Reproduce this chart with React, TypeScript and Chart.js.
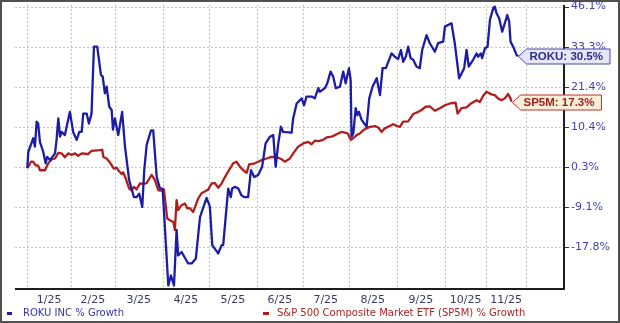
import React, { useEffect, useRef } from "react";
import { Chart, registerables } from "chart.js";

Chart.register(...registerables);

// ---- Data ----
// x unit: trading-session index since the start of 2025
const monthStarts = [0, 20, 40, 62, 83, 105, 126, 147, 169, 191, 210, 228];
const monthLabels = ["1/25", "2/25", "3/25", "4/25", "5/25", "6/25", "7/25", "8/25", "9/25", "10/25", "11/25"];

// right axis tick labels (% growth), bottom to top
const yTickValues = [-17.8, -9.1, 0.3, 10.4, 21.4, 33.3, 46.1];
const yAxisFloor = -25.8;
const yAxisTopPos = 6.04;

const rokuDays = [
  0, 0.5, 2.7, 3.5, 4.3, 5.0, 5.8, 7.3, 8.4, 9.1,
  10.4, 12.7, 13.4, 14.2, 15.0, 15.7, 17.2, 19.5, 21.0, 22.6,
  23.8, 24.9, 25.6, 27.2, 28.2, 29.4, 30.5, 32.0, 33.7, 34.5,
  35.5, 36.3, 37.5, 38.6, 39.2, 40.1, 41.6, 43.4, 44.7, 46.6,
  48.8, 50.0, 51.2, 52.6, 53.5, 54.6, 56.6, 57.6, 59.2, 60.7,
  61.9, 64.5, 65.7, 67.1, 68.3, 69.0, 70.6, 73.6, 75.2, 77.1,
  79.0, 82.0, 83.5, 84.6, 87.3, 88.9, 89.6, 91.9, 93.1, 93.7,
  95.0, 96.5, 98.0, 99.2, 101.0, 102.3, 103.8, 105.6, 107.4, 109.0,
  111.0, 112.5, 113.6, 114.8, 116.0, 117.0, 120.9, 121.6, 123.2, 125.5,
  126.6, 127.7, 130.0, 131.5, 133.1, 133.8, 136.1, 137.2, 138.7, 139.9,
  141.1, 143.0, 144.5, 145.6, 147.1, 147.9, 148.3, 149.1, 150.2, 150.9,
  151.7, 152.9, 155.2, 156.4, 157.9, 159.8, 161.3, 162.5, 164.0, 166.6,
  168.1, 169.6, 170.9, 171.9, 173.1, 174.2, 175.3, 176.5, 178.0, 179.5,
  180.6, 182.6, 184.1, 186.4, 187.9, 190.2, 191.0, 194.0, 195.5, 197.5,
  199.8, 200.9, 201.9, 203.9, 205.5, 206.2, 207.4, 208.0, 209.3, 210.5,
  211.6, 213.1, 213.8, 214.6, 215.8, 217.2, 218.4, 219.5, 220.4, 221.0,
  222.2, 223.8, 224.5,
];
const rokuGrowth = [
  0, 4.1, 7.5, 5.4, 11.8, 11.3, 6.6, 4.1, 1.2, 2.8,
  2.0, 3.7, 7.1, 12.7, 7.9, 9.1, 8.3, 14.5, 9.1, 7.1,
  9.1, 9.1, 14.0, 14.0, 11.3, 14.0, 33.3, 33.3, 24.9, 24.4,
  19.6, 21.4, 15.9, 15.0, 9.7, 12.7, 8.3, 14.5, 5.4, -2.8,
  -6.8, -6.8, -6.0, -9.1, -0.5, 5.8, 9.5, 9.5, -2.1, -4.8,
  -4.8, -25.5, -23.5, -25.5, -14.1, -19.5, -18.8, -21.1, -21.1, -20.1,
  -11.3, -7.0, -9.0, -17.4, -19.1, -17.4, -17.4, -4.8, -6.8, -4.8,
  -4.4, -4.8, -6.4, -6.8, -6.8, -0.5, -2.1, -1.6, 0.3, 6.2,
  7.9, 8.3, 0.3, 6.2, 10.4, 9.1, 8.9, 12.7, 16.8, 18.2,
  16.3, 18.7, 18.7, 18.2, 21.0, 20.0, 21.0, 22.4, 25.9, 24.4,
  21.0, 21.4, 25.9, 22.4, 26.9, 23.4, 7.9, 8.7, 15.5, 13.6,
  14.5, 12.3, 10.4, 18.2, 21.4, 23.9, 19.1, 26.9, 26.9, 31.3,
  30.3, 29.6, 32.3, 28.8, 30.3, 33.3, 29.9, 29.4, 27.4, 26.9,
  32.3, 37.0, 34.4, 31.8, 34.4, 34.9, 39.7, 40.8, 34.4, 23.9,
  26.9, 32.3, 27.4, 29.4, 31.3, 30.3, 31.3, 29.9, 32.8, 33.3,
  41.9, 45.6, 46.1, 44.0, 42.4, 38.1, 40.8, 43.4, 41.3, 34.9,
  33.3, 30.8, 30.5,
];

const sp5mDays = [
  0, 0.5, 1.7, 2.7, 3.8, 5.0, 5.8, 8.1, 9.6, 11.2,
  12.7, 14.2, 15.7, 17.2, 18.8, 20.3, 21.8, 23.3, 24.9, 26.4,
  27.8, 29.4, 33.2, 34.3, 34.8, 36.3, 37.8, 38.6, 39.6, 40.9,
  41.6, 43.2, 43.9, 45.1, 46.6, 47.7, 48.8, 50.0, 51.5, 53.0,
  54.6, 55.8, 56.9, 58.4, 59.9, 61.5, 62.5, 64.0, 65.2, 66.8,
  67.5, 68.3, 69.0, 70.6, 72.1, 73.2, 74.4, 75.9, 78.2, 79.7,
  81.2, 82.8, 84.3, 85.8, 87.3, 88.9, 90.4, 92.7, 94.2, 95.7,
  97.3, 98.8, 100.3, 101.5, 104.1, 105.6, 107.2, 109.5, 111.7, 114.8,
  116.3, 117.8, 120.1, 121.6, 123.9, 126.2, 128.5, 130.0, 131.5, 133.1,
  135.3, 136.9, 139.2, 140.7, 142.2, 143.7, 145.3, 146.6, 147.9, 149.1,
  150.6, 152.1, 153.6, 155.2, 156.7, 159.0, 160.5, 162.0, 163.5, 165.1,
  167.3, 169.6, 170.4, 171.9, 174.2, 176.5, 178.8, 180.3, 182.2, 184.1,
  186.4, 188.7, 191.0, 193.3, 195.9, 196.8, 198.6, 200.9, 202.9, 205.5,
  207.0, 208.5, 210.0, 212.3, 213.8, 215.3, 216.9, 218.4, 219.9, 221.0,
  221.5,
];
const sp5mGrowth = [
  0, 0.3, 1.6, 1.6, 0.7, 0.6, -0.5, -0.5, 1.2, 2.2,
  2.4, 3.8, 3.7, 2.7, 3.7, 3.3, 3.7, 3.1, 3.7, 3.6,
  3.5, 4.3, 4.5, 4.6, 2.8, 2.4, 1.4, 0.7, -0.1, 0.1,
  -0.5, -1.4, -1.0, -2.5, -4.8, -5.2, -4.4, -5.0, -3.6, -3.7,
  -3.5, -2.5, -1.6, -2.8, -5.2, -5.3, -5.0, -11.6, -12.0, -12.4,
  -14.1, -7.5, -9.8, -8.7, -8.3, -9.4, -9.4, -10.2, -7.1, -5.9,
  -5.5, -5.0, -3.6, -3.5, -4.6, -3.6, -2.1, -0.1, 1.2, 1.6,
  0.3, -0.5, -1.1, 0.9, 1.2, 1.6, 2.0, 2.4, 2.8, 2.6,
  2.2, 1.6, 2.4, 3.7, 5.4, 6.2, 6.6, 6.0, 6.9, 6.8,
  7.1, 7.7, 7.9, 8.3, 8.7, 9.1, 8.9, 8.7, 7.1, 7.5,
  8.3, 8.7, 9.5, 10.0, 10.4, 10.6, 10.2, 9.1, 10.0, 10.4,
  11.1, 10.5, 10.4, 11.8, 11.9, 13.9, 14.5, 15.0, 15.9, 16.0,
  14.8, 15.5, 16.3, 16.8, 17.0, 14.0, 15.5, 15.7, 16.8, 17.7,
  17.2, 18.9, 20.0, 19.3, 19.1, 18.2, 17.7, 18.2, 19.4, 18.2,
  17.3,
];

const seriesNames = ["ROKU INC % Growth", "S&P 500 Composite Market ETF (SP5M) % Growth"];
const tagNames = ["ROKU", "SP5M"];

// ---- Styling ----
const FONT = '"DejaVu Sans", Verdana, sans-serif';
const ROKU_COLOR = "#1c1ca6";
const SP_COLOR = "#b01e1e";
const tagStyles = [
  { fill: "#e6e6f6", stroke: "#4848aa", text: "#2c2c8c" },
  { fill: "#f9eed6", stroke: "#b83434", text: "#a32020" },
];

// piecewise mapping of % growth onto the axis (tick labels are evenly spaced)
const bounds = [yAxisFloor, ...yTickValues];
function toPos(v: number): number {
  for (let i = 0; i < bounds.length - 1; i++) {
    if (v <= bounds[i + 1] || i === bounds.length - 2) {
      return i - 1 + (v - bounds[i]) / (bounds[i + 1] - bounds[i]);
    }
  }
  return 0;
}

const seriesGrowth = [rokuGrowth, sp5mGrowth];

const framePlugin = {
  id: "frame",
  beforeDatasetsDraw(chart: any) {
    const { ctx, chartArea: a, scales } = chart;
    const xs = scales.x;
    const ys = scales.y;
    ctx.save();
    ctx.strokeStyle = "#c6c6c6";
    ctx.lineWidth = 1;
    ctx.setLineDash([2, 2]);
    yTickValues.forEach((_, i) => {
      const y = Math.round(ys.getPixelForValue(i)) + 0.5;
      ctx.beginPath();
      ctx.moveTo(a.left, y);
      ctx.lineTo(a.right, y);
      ctx.stroke();
    });
    monthStarts.forEach((m) => {
      const x = Math.round(xs.getPixelForValue(m)) + 0.5;
      ctx.beginPath();
      ctx.moveTo(x, a.top);
      ctx.lineTo(x, a.bottom + 1);
      ctx.stroke();
    });
    ctx.restore();
  },
  afterDatasetsDraw(chart: any) {
    const { ctx, chartArea: a, scales } = chart;
    const ys = scales.y;
    ctx.save();
    ctx.setLineDash([]);
    ctx.strokeStyle = "#1e1e1e";
    ctx.lineWidth = 2;
    ctx.beginPath();
    ctx.moveTo(a.left, a.bottom + 2);
    ctx.lineTo(a.right + 1, a.bottom + 2);
    ctx.moveTo(a.right + 1, a.top);
    ctx.lineTo(a.right + 1, a.bottom + 3);
    ctx.stroke();
    ctx.lineWidth = 1;
    ctx.strokeStyle = "#333";
    yTickValues.forEach((_, i) => {
      const y = Math.round(ys.getPixelForValue(i)) + 0.5;
      ctx.beginPath();
      ctx.moveTo(a.right + 2, y);
      ctx.lineTo(a.right + 6, y);
      ctx.stroke();
    });

    // end-of-series tags
    chart.data.datasets.forEach((_ds: any, di: number) => {
      const meta = chart.getDatasetMeta(di);
      const pt = meta.data[meta.data.length - 1];
      if (!pt) return;
      const vals = seriesGrowth[di];
      const label = `${tagNames[di]}: ${vals[vals.length - 1].toFixed(1)}%`;
      const st = tagStyles[di];
      ctx.font = 'bold 11.5px "Liberation Sans", Arial, sans-serif';
      const tw = ctx.measureText(label).width;
      const h = 15;
      const ar = 8;
      const x0 = Math.round(pt.x) + 0.5;
      const y0 = Math.round(pt.y) + 0.5;
      const x1 = x0 + ar;
      const x2 = x1 + 3 + tw + 7;
      ctx.beginPath();
      ctx.moveTo(x0, y0);
      ctx.lineTo(x1, y0 - h / 2);
      ctx.lineTo(x2, y0 - h / 2);
      ctx.lineTo(x2, y0 + h / 2);
      ctx.lineTo(x1, y0 + h / 2);
      ctx.closePath();
      ctx.fillStyle = st.fill;
      ctx.fill();
      ctx.strokeStyle = st.stroke;
      ctx.lineWidth = 1;
      ctx.stroke();
      ctx.fillStyle = st.text;
      ctx.textBaseline = "middle";
      ctx.textAlign = "left";
      ctx.fillText(label, x1 + 3, y0 + 0.5);
    });
    ctx.restore();
  },
};

export default function App() {
  const canvasRef = useRef<HTMLCanvasElement | null>(null);

  useEffect(() => {
    document.body.style.margin = "0";
    const canvas = canvasRef.current;
    if (!canvas) return;
    const chart = new Chart(canvas, {
      type: "line",
      data: {
        datasets: [
          {
            label: seriesNames[0],
            data: rokuDays.map((d, i) => ({ x: d, y: toPos(rokuGrowth[i]) })),
            borderColor: ROKU_COLOR,
            borderWidth: 2.3,
            borderJoinStyle: "round",
            pointRadius: 0,
            tension: 0,
            fill: false,
          },
          {
            label: seriesNames[1],
            data: sp5mDays.map((d, i) => ({ x: d, y: toPos(sp5mGrowth[i]) })),
            borderColor: SP_COLOR,
            borderWidth: 2.3,
            borderJoinStyle: "round",
            pointRadius: 0,
            tension: 0,
            fill: false,
          },
        ],
      },
      options: {
        responsive: false,
        maintainAspectRatio: false,
        animation: false,
        layout: { padding: { left: 13, top: 3, right: 0, bottom: 0 } },
        plugins: { legend: { display: false }, tooltip: { enabled: false } },
        scales: {
          x: {
            type: "linear",
            position: "bottom",
            min: -5.6,
            max: 245,
            grid: { display: false, drawTicks: false },
            border: { display: false },
            afterBuildTicks: (s: any) => {
              s.ticks = monthLabels.map((_, i) => ({ value: (monthStarts[i] + monthStarts[i + 1]) / 2 }));
            },
            afterFit: (s: any) => {
              s.height = 34;
              s.paddingLeft = 0;
              s.paddingRight = 0;
            },
            ticks: {
              autoSkip: false,
              maxRotation: 0,
              minRotation: 0,
              padding: 7,
              color: "#3a3a5c",
              font: { family: FONT, size: 11 },
              callback: (_v: any, i: number) => monthLabels[i],
            },
          },
          y: {
            type: "linear",
            position: "right",
            min: -1,
            max: yAxisTopPos,
            grid: { display: false, drawTicks: false },
            border: { display: false },
            afterBuildTicks: (s: any) => {
              s.ticks = yTickValues.map((_, i) => ({ value: i }));
            },
            afterFit: (s: any) => {
              s.width = 55;
              s.paddingTop = 0;
              s.paddingBottom = 0;
            },
            ticks: {
              padding: 8,
              color: "#4242b0",
              font: { family: FONT, size: 11 },
              callback: (v: any) => `${yTickValues[v as number].toFixed(1)}%`,
            },
          },
        },
      },
      plugins: [framePlugin],
    } as any);
    return () => chart.destroy();
  }, []);

  return (
    <div
      style={{
        position: "relative",
        width: 620,
        height: 323,
        boxSizing: "border-box",
        border: "2px solid #505050",
        background: "#ffffff",
        overflow: "hidden",
        fontFamily: FONT,
      }}
    >
      <canvas
        ref={canvasRef}
        width={616}
        height={319}
        style={{ position: "absolute", left: 0, top: 0, width: 616, height: 319 }}
      />
      <div style={{ position: "absolute", left: 5, top: 310, width: 5, height: 3, background: ROKU_COLOR }} />
      <div
        style={{ position: "absolute", left: 21, top: 305, fontSize: 10, lineHeight: "12px", color: "#3636a8", whiteSpace: "nowrap" }}
      >
        {seriesNames[0]}
      </div>
      <div style={{ position: "absolute", left: 261, top: 310, width: 6, height: 3, background: SP_COLOR }} />
      <div
        style={{ position: "absolute", left: 275, top: 305, fontSize: 10, lineHeight: "12px", color: "#ad2424", whiteSpace: "nowrap" }}
      >
        {seriesNames[1]}
      </div>
    </div>
  );
}
